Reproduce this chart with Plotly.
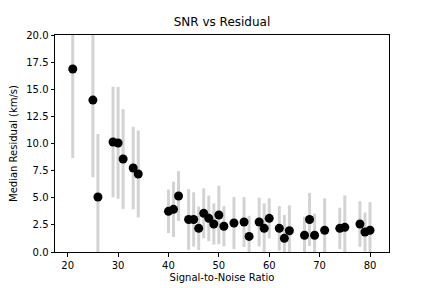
import plotly.graph_objects as go

# signal-to-noise ratio of each bin
snr = [21, 25, 26, 29, 30, 31, 33, 34, 40, 41, 42, 44, 45, 46, 47, 48, 49, 50, 51,
       53, 55, 56, 58, 59, 60, 62, 63, 64, 67, 68, 69, 71, 74, 75, 78, 79, 80]
# median residual (km/s)
resid = [16.87, 14.0, 5.07, 10.14, 10.05, 8.57, 7.74, 7.19, 3.75, 3.93, 5.16, 3.0, 3.0,
         2.18, 3.56, 3.1, 2.58, 3.41, 2.37, 2.67, 2.76, 1.44, 2.76, 2.18, 3.1, 2.18,
         1.26, 1.96, 1.54, 3.0, 1.54, 2.0, 2.18, 2.27, 2.58, 1.84, 2.0]
# spread of the residuals
spread = [8.2, 7.1, 5.8, 5.1, 5.15, 4.6, 3.8, 4.0, 2.0, 2.55, 2.3, 2.8, 2.5, 2.0, 2.3,
          2.1, 1.9, 2.7, 1.85, 2.4, 2.3, 1.9, 2.25, 2.3, 1.85, 2.05, 2.15, 2.35, 1.7,
          2.45, 2.0, 2.95, 1.9, 2.95, 2.1, 1.8, 2.6]

y_ticks = [0, 2.5, 5, 7.5, 10, 12.5, 15, 17.5, 20]

fig = go.Figure()
fig.add_trace(
    go.Scatter(
        x=snr,
        y=resid,
        mode="markers",
        marker=dict(color="black", size=9),
        error_y=dict(type="data", array=spread, color="lightgray", thickness=3, width=0),
        cliponaxis=True,
        showlegend=False,
    )
)

axis_style = dict(
    showgrid=False,
    zeroline=False,
    showline=True,
    linecolor="black",
    linewidth=1,
    mirror=True,
    ticks="outside",
    ticklen=3.5,
    tickwidth=1,
    tickcolor="black",
    automargin=False,
    tickfont=dict(family="DejaVu Sans", size=10, color="black"),
)

# the page body has an 8px margin, so the figure is a bit smaller than the window
fig.update_layout(
    width=424,
    height=280,
    margin=dict(l=47, r=43, t=27, b=36, autoexpand=False),
    paper_bgcolor="white",
    plot_bgcolor="white",
    title=dict(text="SNR vs Residual", x=0.5047, xanchor="center", y=0.95, yanchor="middle",
               font=dict(family="DejaVu Sans", size=12, color="black")),
    font=dict(family="DejaVu Sans", size=10, color="black"),
)
fig.update_xaxes(
    range=[17.48, 83.77],
    tickvals=[20, 30, 40, 50, 60, 70, 80],
    title=dict(text="Signal-to-Noise Ratio", font=dict(size=10), standoff=4),
    **axis_style,
)
fig.update_yaxes(
    range=[0, 20],
    tickvals=y_ticks,
    ticktext=["%.1f" % v for v in y_ticks],
    title=dict(text="Median Residual (km/s)", font=dict(size=10), standoff=6),
    **axis_style,
)

fig.write_html("out.html")
